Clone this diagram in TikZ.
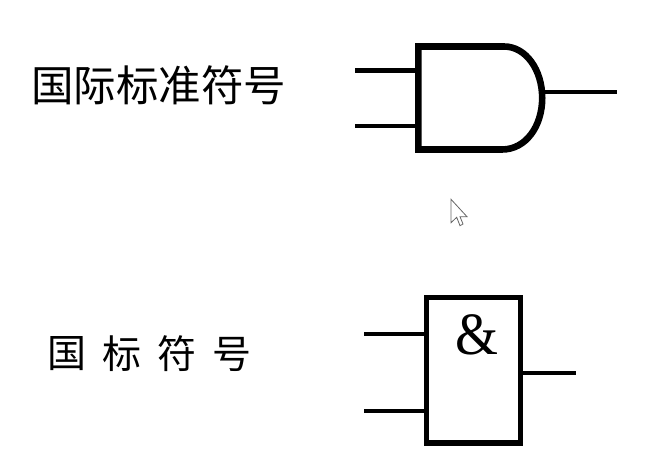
\documentclass[tikz,border=0pt]{standalone}
\usepackage{fontspec}
\setmainfont{Liberation Serif}
\newfontfamily\cjk{Noto Sans CJK SC}
\tikzset{
  gateline/.style={line width=6.6pt,line join=miter,draw=black},
  boxline/.style={line width=5.4pt,draw=black,minimum width=94pt,minimum height=145.5pt,inner sep=0pt,rectangle},
  wire/.style={line width=4.4pt,draw=black},
  bigtitle/.style={font=\cjk\fontsize{42.5}{42.5}\selectfont,inner sep=0pt,text=black},
  smalltitle/.style={font=\cjk\fontsize{39}{39}\selectfont,inner sep=0pt,text=black},
  ampglyph/.style={font=\fontsize{60}{60}\selectfont,inner sep=0pt,text=black,xscale=.92}
}
\begin{document}
\begin{tikzpicture}[x=1pt,y=-1pt]
\useasboundingbox[fill=white] (0,0) rectangle (655,465);
% titles
\node[bigtitle] (t1) at (158.5,85) {国际标准符号};
\node[smalltitle] (a1) at (67,354) {国};
\node[smalltitle] (a2) at (122,354) {标};
\node[smalltitle] (a3) at (177,354) {符};
\node[smalltitle] (a4) at (232,354) {号};
% AND gate, distinctive shape
\coordinate (g1) at (418,70.7);
\coordinate (g2) at (418,126);
\coordinate (gout) at (542.2,92);
\coordinate (i1) at (355,70.7);
\coordinate (i2) at (355,126);
\coordinate (o1) at (617,92);
\draw[gateline] (418.3,46.5) -- (504,46.5) .. controls (526,46.5) and (542.2,70) .. (542.2,98)
  .. controls (542.2,126) and (526,149.5) .. (502,149.5) -- (418.3,149.5) -- cycle;
\draw[wire] (i1) -- (g1);
\draw[wire] (i2) -- (g2);
\draw[wire] (gout) -- (o1);
% AND gate, rectangular shape
\node[boxline] (box) at (473.5,370.3) {};
\node[ampglyph] (amp) at (477,335) {\&};
\coordinate (j1) at (364,333.7);
\coordinate (j2) at (364,410.7);
\coordinate (p1) at (576,372.7);
\draw[wire] (j1) -- (j1-|box.west);
\draw[wire] (j2) -- (j2-|box.west);
\draw[wire] (p1-|box.east) -- (p1);
% mouse cursor
\draw[line width=0.8pt,draw=black!60,fill=white,line join=miter]
  (451,199.3) -- (451,222.7) -- (456.7,217.3) -- (460,225.7) -- (463,224) -- (460,216.7) -- (467,216.7) -- cycle;
\end{tikzpicture}
\end{document}
